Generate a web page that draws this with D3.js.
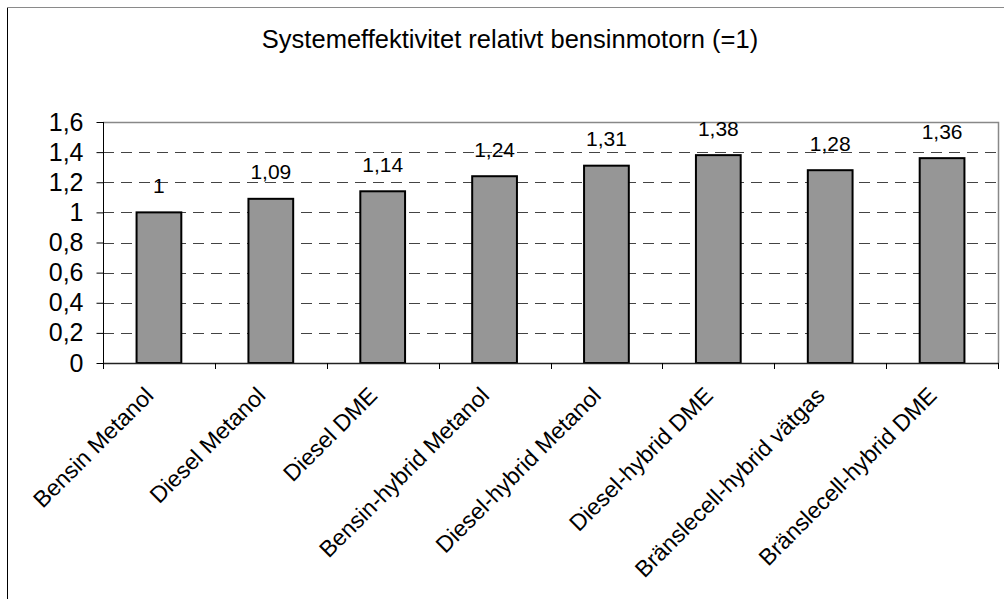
<!DOCTYPE html>
<html>
<head>
<meta charset="utf-8">
<script src="https://cdn.jsdelivr.net/npm/d3@7"></script>
<style>
  html, body { margin: 0; padding: 0; background: #fff; }
  svg { display: block; font-family: "Liberation Sans", Arial, sans-serif; }
</style>
</head>
<body>
<svg id="chart" width="1004" height="599"></svg>
<script>
// Systemeffektivitet per drivlina, relativt bensinmotorn (=1)
const categories = [
  "Bensin Metanol",
  "Diesel Metanol",
  "Diesel DME",
  "Bensin-hybrid Metanol",
  "Diesel-hybrid Metanol",
  "Diesel-hybrid DME",
  "Bränslecell-hybrid vätgas",
  "Bränslecell-hybrid DME"
];
const values = [1, 1.09, 1.14, 1.24, 1.31, 1.38, 1.28, 1.36];
const yTicks = [0, 0.2, 0.4, 0.6, 0.8, 1, 1.2, 1.4, 1.6];
const title = "Systemeffektivitet relativt bensinmotorn (=1)";

const svg = d3.select("#chart");
const plot = { left: 103, right: 998, top: 122, bottom: 363 };
const fmt = v => String(v).replace(".", ",");

// Outer chart frame (extends past the right and bottom edges)
svg.append("line").attr("x1", 7.5).attr("x2", 7.5).attr("y1", 7).attr("y2", 599)
  .attr("stroke", "#000").attr("stroke-width", 1);
svg.append("line").attr("x1", 7).attr("x2", 1004).attr("y1", 7.5).attr("y2", 7.5)
  .attr("stroke", "#8a8a8a").attr("stroke-width", 1);

// Title
svg.append("text")
  .attr("x", 510).attr("y", 48)
  .attr("text-anchor", "middle")
  .attr("font-size", 25.5)
  .attr("fill", "#000")
  .text(title);

const x = d3.scaleBand()
  .domain(categories)
  .range([plot.left, plot.right])
  .paddingInner(0.6)
  .paddingOuter(0.3);

const y = d3.scaleLinear()
  .domain([0, 1.6])
  .range([plot.bottom, plot.top]);

// Dashed gridlines
svg.append("g")
  .selectAll("line")
  .data(yTicks.filter(t => t > 0 && t < 1.6))
  .join("line")
  .attr("x1", plot.left).attr("x2", plot.right)
  .attr("y1", d => Math.round(y(d)) + 0.5).attr("y2", d => Math.round(y(d)) + 0.5)
  .attr("stroke", "#444")
  .attr("stroke-width", 1)
  .attr("stroke-dasharray", "11,7");

// Plot area border top and right
svg.append("path")
  .attr("d", `M${plot.left},${Math.round(y(1.6)) + 0.5}H${plot.right + 0.5}V${plot.bottom}`)
  .attr("fill", "none")
  .attr("stroke", "#888")
  .attr("stroke-width", 1.5);

// Bars
svg.append("g")
  .selectAll("rect")
  .data(values)
  .join("rect")
  .attr("x", (d, i) => x(categories[i]))
  .attr("y", d => y(d))
  .attr("width", x.bandwidth())
  .attr("height", d => y(0) - y(d))
  .attr("fill", "#969696")
  .attr("stroke", "#000")
  .attr("stroke-width", 2);

// Value labels
svg.append("g")
  .selectAll("text")
  .data(values)
  .join("text")
  .attr("x", (d, i) => x(categories[i]) + x.bandwidth() / 2)
  .attr("y", d => y(d) - 19.5)
  .attr("text-anchor", "middle")
  .attr("font-size", 21)
  .attr("fill", "#000")
  .text(d => fmt(d));

// Y axis
const yAxis = svg.append("g")
  .attr("transform", `translate(${plot.left + 0.5},0)`)
  .call(d3.axisLeft(y).tickValues(yTicks).tickSize(7).tickPadding(13).tickFormat(fmt));
yAxis.select(".domain").attr("stroke", "#000").attr("d", `M0,${plot.top}V${plot.bottom + 6}`);
yAxis.selectAll(".tick line").attr("stroke", "#000");
yAxis.selectAll(".tick text")
  .attr("font-size", 25)
  .attr("font-family", "Liberation Sans, Arial, sans-serif")
  .attr("fill", "#000");

// X axis: baseline with ticks at category boundaries
const step = x.step();
const boundaries = d3.range(categories.length + 1).map(i => plot.left + i * step);
svg.append("line")
  .attr("x1", plot.left).attr("x2", plot.right + 1)
  .attr("y1", plot.bottom + 0.5).attr("y2", plot.bottom + 0.5)
  .attr("stroke", "#222").attr("stroke-width", 1.5);
svg.append("g")
  .selectAll("line")
  .data(boundaries)
  .join("line")
  .attr("x1", d => Math.round(d) + 0.5).attr("x2", d => Math.round(d) + 0.5)
  .attr("y1", plot.bottom).attr("y2", plot.bottom + 6)
  .attr("stroke", "#000");

// Rotated category labels
svg.append("g")
  .selectAll("text")
  .data(categories)
  .join("text")
  .attr("transform", d => `translate(${x(d) + x.bandwidth() / 2 - 4},${plot.bottom + 34}) rotate(-45)`)
  .attr("text-anchor", "end")
  .attr("font-size", 23)
  .attr("fill", "#000")
  .text(d => d);
</script>
</body>
</html>
